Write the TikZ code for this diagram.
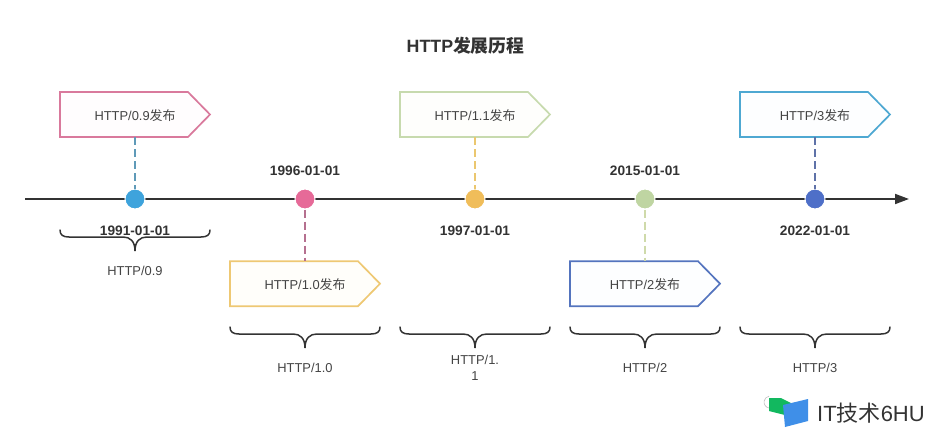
\documentclass[tikz,border=0pt]{standalone}
\usepackage{fontspec}
\setmainfont{Liberation Sans}
\newfontfamily\cjk{Noto Sans CJK SC}
\usetikzlibrary{arrows.meta}
\definecolor{txt}{HTML}{444444}
\definecolor{dark}{HTML}{333333}
\definecolor{bpink}{HTML}{D9799C}
\definecolor{byellow}{HTML}{EEC873}
\definecolor{bgreen}{HTML}{C7DAAE}
\definecolor{bblue}{HTML}{5474BE}
\definecolor{bcyan}{HTML}{4EA8D2}
\definecolor{fpink}{HTML}{FFFDFE}
\definecolor{fyellow}{HTML}{FFFEFA}
\definecolor{fgreen}{HTML}{FEFEFC}
\definecolor{fblue}{HTML}{FDFEFF}
\definecolor{fcyan}{HTML}{FDFEFF}
\definecolor{cone}{HTML}{3EA3DC}
\definecolor{ctwo}{HTML}{E66A98}
\definecolor{cthree}{HTML}{F0BD5A}
\definecolor{cfour}{HTML}{BFD5A2}
\definecolor{cfive}{HTML}{4E6FC8}
\definecolor{sone}{HTML}{5F9AB8}
\definecolor{stwo}{HTML}{B5708F}
\definecolor{sthree}{HTML}{EBC76F}
\definecolor{sfour}{HTML}{CFDAAA}
\definecolor{sfive}{HTML}{5F72A8}
\definecolor{wgreen}{HTML}{12B85F}
\definecolor{wblue}{HTML}{3F8FE8}
\tikzset{
  x=1pt,y=-1pt,
  tagbody/.style={minimum width=150pt,minimum height=45pt,inner sep=0pt,text height=12.2pt,text depth=0pt,text=txt,font=\fontsize{12.9}{15}\selectfont},
  tagline/.style={line width=1.7pt,line join=miter},
  stem/.style={line width=1.5pt,dash pattern=on 8pt off 4pt},
  dot/.style={circle,draw=white,line width=1pt,minimum size=20pt,inner sep=0pt},
  datelab/.style={text=dark,font=\fontsize{13.7}{16}\bfseries\selectfont,inner sep=0pt},
  verlab/.style={text=txt,font=\fontsize{12.9}{16}\selectfont,inner sep=0pt,align=center},
  bracepath/.style={draw=dark,line width=1.5pt,line cap=round},
  axisline/.style={draw=dark,line width=1.8pt,-{Triangle[length=14pt,width=10pt]}}
}
% name, cx, cy, border, tint, text
\newcommand{\tagbox}[6]{%
  \draw[tagline,draw=#4,fill=#5] (#2-75,#3-22.5) -- (#2+53,#3-22.5) -- (#2+75,#3) -- (#2+53,#3+22.5) -- (#2-75,#3+22.5) -- cycle;
  \node[tagbody] (#1) at (#2,#3) {HTTP/#6{\cjk 发布}};
}
% cx, top y
\newcommand{\curly}[2]{%
  \draw[bracepath] (#1-75,#2) .. controls (#1-75,#2+5) and (#1-72,#2+7) .. (#1-66,#2+7)
    -- (#1-12,#2+7) .. controls (#1-5,#2+7) and (#1,#2+11) .. (#1,#2+21)
    .. controls (#1,#2+11) and (#1+5,#2+7) .. (#1+12,#2+7)
    -- (#1+66,#2+7) .. controls (#1+72,#2+7) and (#1+75,#2+5) .. (#1+75,#2);
}
\begin{document}
\begin{tikzpicture}
\useasboundingbox (0,0) rectangle (930,431);
\node[text=dark,font=\fontsize{17.8}{20}\bfseries\selectfont,inner sep=0pt] (title) at (465.5,45.5) {HTTP{\cjk 发展历程}};

\coordinate (axstart) at (25,199);
\coordinate (axend) at (909,199);
\draw[axisline] (axstart) -- (axend);

\tagbox{t1}{135}{114.5}{bpink}{fpink}{0.9}
\tagbox{t2}{305}{283.7}{byellow}{fyellow}{1.0}
\tagbox{t3}{475}{114.5}{bgreen}{fgreen}{1.1}
\tagbox{t4}{645}{283.7}{bblue}{fblue}{2}
\tagbox{t5}{815}{114.5}{bcyan}{fcyan}{3}

\node[dot,fill=cone] (c1) at (135,199) {};
\node[dot,fill=ctwo] (c2) at (305,199) {};
\node[dot,fill=cthree] (c3) at (475,199) {};
\node[dot,fill=cfour] (c4) at (645,199) {};
\node[dot,fill=cfive] (c5) at (815,199) {};

\draw[stem,draw=sone] (t1.south) -- (c1.north);
\draw[stem,draw=stwo] (c2.south) -- (t2.north);
\draw[stem,draw=sthree] (t3.south) -- (c3.north);
\draw[stem,draw=sfour] (c4.south) -- (t4.north);
\draw[stem,draw=sfive] (t5.south) -- (c5.north);

\curly{135}{230}
\curly{305}{327}
\curly{475}{327}
\curly{645}{327}
\curly{815}{327}

\node[datelab] (d1) at (135,231) {1991-01-01};
\node[datelab] (d2) at (305,171) {1996-01-01};
\node[datelab] (d3) at (475,231) {1997-01-01};
\node[datelab] (d4) at (645,171) {2015-01-01};
\node[datelab] (d5) at (815,231) {2022-01-01};

\node[verlab] (v1) at (135,270.5) {HTTP/0.9};
\node[verlab] (v2) at (305,367.5) {HTTP/1.0};
\node[verlab] (v3) at (475,367.5) {HTTP/1.\\1};
\node[verlab] (v4) at (645,367.5) {HTTP/2};
\node[verlab] (v5) at (815,367.5) {HTTP/3};

% watermark
\draw[gray!50,line width=0.6pt] (769,408) arc[start angle=100,end angle=260,radius=6];
\fill[wgreen] (769,398) -- (781,398) -- (793,404) -- (793,415) -- (785,415) -- (769,411) -- cycle;
\fill[wblue] (783,405) -- (808,399) -- (808,421) -- (785,427) -- cycle;
\node[text=dark,font=\fontsize{22}{24}\selectfont,inner sep=0pt,anchor=west] (wm) at (817,413) {IT{\cjk 技术}6HU};
\end{tikzpicture}
\end{document}
